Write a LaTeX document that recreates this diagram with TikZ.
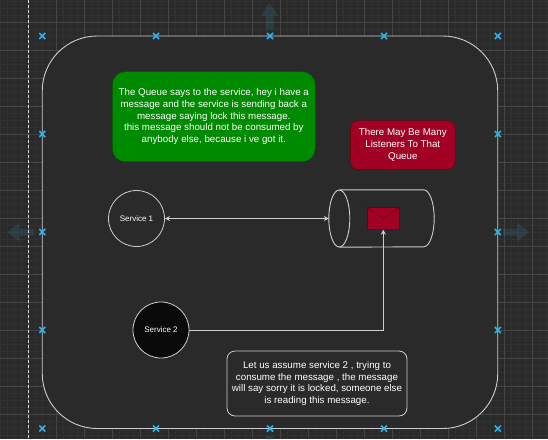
\documentclass[tikz,border=0pt]{standalone}
\usepackage{fontspec}
\setmainfont{Liberation Sans}
\usetikzlibrary{arrows.meta,shapes.misc}

\definecolor{canvasbg}{HTML}{2A2A2A}
\definecolor{gridminor}{HTML}{313131}
\definecolor{gridmajor}{HTML}{454545}
\definecolor{edgegray}{HTML}{CDCDCD}
\definecolor{notegreen}{HTML}{008A00}
\definecolor{notegreenline}{HTML}{005700}
\definecolor{notered}{HTML}{A20025}
\definecolor{noteredline}{HTML}{6F0000}
\definecolor{handleblue}{HTML}{29B6F2}

\tikzset{
  notetext/.style={text=white,align=center,inner sep=0pt,font=\fontsize{9.75}{11.7}\selectfont},
  service/.style={circle,draw=edgegray,line width=0.8pt,minimum size=56pt,inner sep=0pt,text=white,font=\fontsize{8}{9}\selectfont},
  conn/.style={draw=edgegray,line width=0.9pt,>={Stealth[length=5pt,width=5pt]}},
  handle/.style={cross out,draw=handleblue,line width=1.5pt,minimum size=4.5pt,inner sep=0pt},
  hoverarrow/.style={fill=handleblue!70!gray,fill opacity=0.15},
}

\begin{document}
\begin{tikzpicture}[x=1pt,y=-1pt]
  \useasboundingbox (0,0) rectangle (548,439);
  \fill[canvasbg] (0,0) rectangle (548,439);

  \foreach \k in {-4,...,75}
    \draw[gridminor,line width=0.5pt] ({27.8+7*\k},0) -- ++(0,439);
  \foreach \k in {-4,...,60}
    \draw[gridminor,line width=0.5pt] (0,{22.3+7*\k}) -- ++(548,0);
  \foreach \k in {-1,...,19}
    \draw[gridmajor,line width=0.6pt] ({27.8+28*\k},0) -- ++(0,439);
  \foreach \k in {-1,...,15}
    \draw[gridmajor,line width=0.6pt] (0,{22.3+28*\k}) -- ++(548,0);
  \draw[white!85!black,line width=0.6pt,dash pattern=on 2.5pt off 2.5pt] (28,0) -- (28,439);

  \fill[hoverarrow] (265.8,29.5) -- (265.8,15.5) -- (261,15.5) -- (269.5,3) -- (278,15.5) -- (273.2,15.5) -- (273.2,29.5) -- cycle;
  \fill[hoverarrow] (34,228.5) -- (19.5,228.5) -- (19.5,222.5) -- (7.5,232) -- (19.5,241.5) -- (19.5,235.5) -- (34,235.5) -- cycle;
  \fill[hoverarrow] (503,228.5) -- (517,228.5) -- (517,222.5) -- (529.5,232) -- (517,241.5) -- (517,235.5) -- (503,235.5) -- cycle;
  \fill[hoverarrow] (266,436) rectangle (273,445);

  \node[draw=edgegray,fill=canvasbg,line width=0.9pt,rounded corners=55pt,minimum width=455.5pt,minimum height=392.5pt] (frame) at (270,232.25) {};

  \node[notetext,fill=notegreen,draw=notegreenline,rounded corners=13pt,minimum width=203pt,minimum height=90pt] (greennote) at (213.8,116.7)
    {The Queue says to the service, hey i have a\\message and the service is sending back a\\message saying lock this message.\\this message should not be consumed by\\anybody else, because i ve got it.};
  \node[notetext,fill=notered,draw=noteredline,rounded corners=7pt,minimum width=104.3pt,minimum height=48.6pt] (rednote) at (402.8,145)
    {There May Be Many\\Listeners To That\\Queue};
  \node[notetext,draw=edgegray,line width=0.8pt,rounded corners=8pt,minimum width=180pt,minimum height=65pt] (lockednote) at (317,383.5)
    {Let us assume service 2 , trying to\\consume the message , the message\\will say sorry it is locked, someone else\\is reading this message.};

  \node[service] (svc1) at (136.5,218.5) {Service 1};
  \node[service,fill=black!96] (svc2) at (161,330) {Service 2};

  \node[minimum width=105pt,minimum height=57pt,inner sep=0pt] (queue) at (381.5,218.5) {};
  \draw[conn] ([xshift=10.5pt]queue.north west) -- ([xshift=-10.5pt]queue.north east)
    arc[start angle=90,end angle=-90,x radius=10.5pt,y radius=28.5pt] -- ([xshift=10.5pt]queue.south west);
  \draw[conn] ([xshift=10.5pt]queue.west) ellipse[x radius=10.5pt,y radius=28.5pt];

  \node[fill=notered,draw=noteredline,line width=0.8pt,minimum width=32pt,minimum height=21.5pt,inner sep=0pt] (letter) at (383.3,218.5) {};
  \draw[noteredline,line width=0.6pt] (letter.north west) -- (letter.center) -- (letter.north east);

  \draw[conn,<->] (svc1.east) -- (queue.west);
  \draw[conn,->] (svc2.east) -| (letter.south);

  \foreach \hx [count=\i] in {42.3,156,270,384,497.8} {
    \node[handle] (htop\i) at (\hx,36) {};
    \node[handle] (hbot\i) at (\hx,428.5) {};
  }
  \foreach \hy [count=\i] in {134,232,330} {
    \node[handle] (hleft\i) at (42.3,\hy) {};
    \node[handle] (hright\i) at (497.8,\hy) {};
  }
\end{tikzpicture}
\end{document}
